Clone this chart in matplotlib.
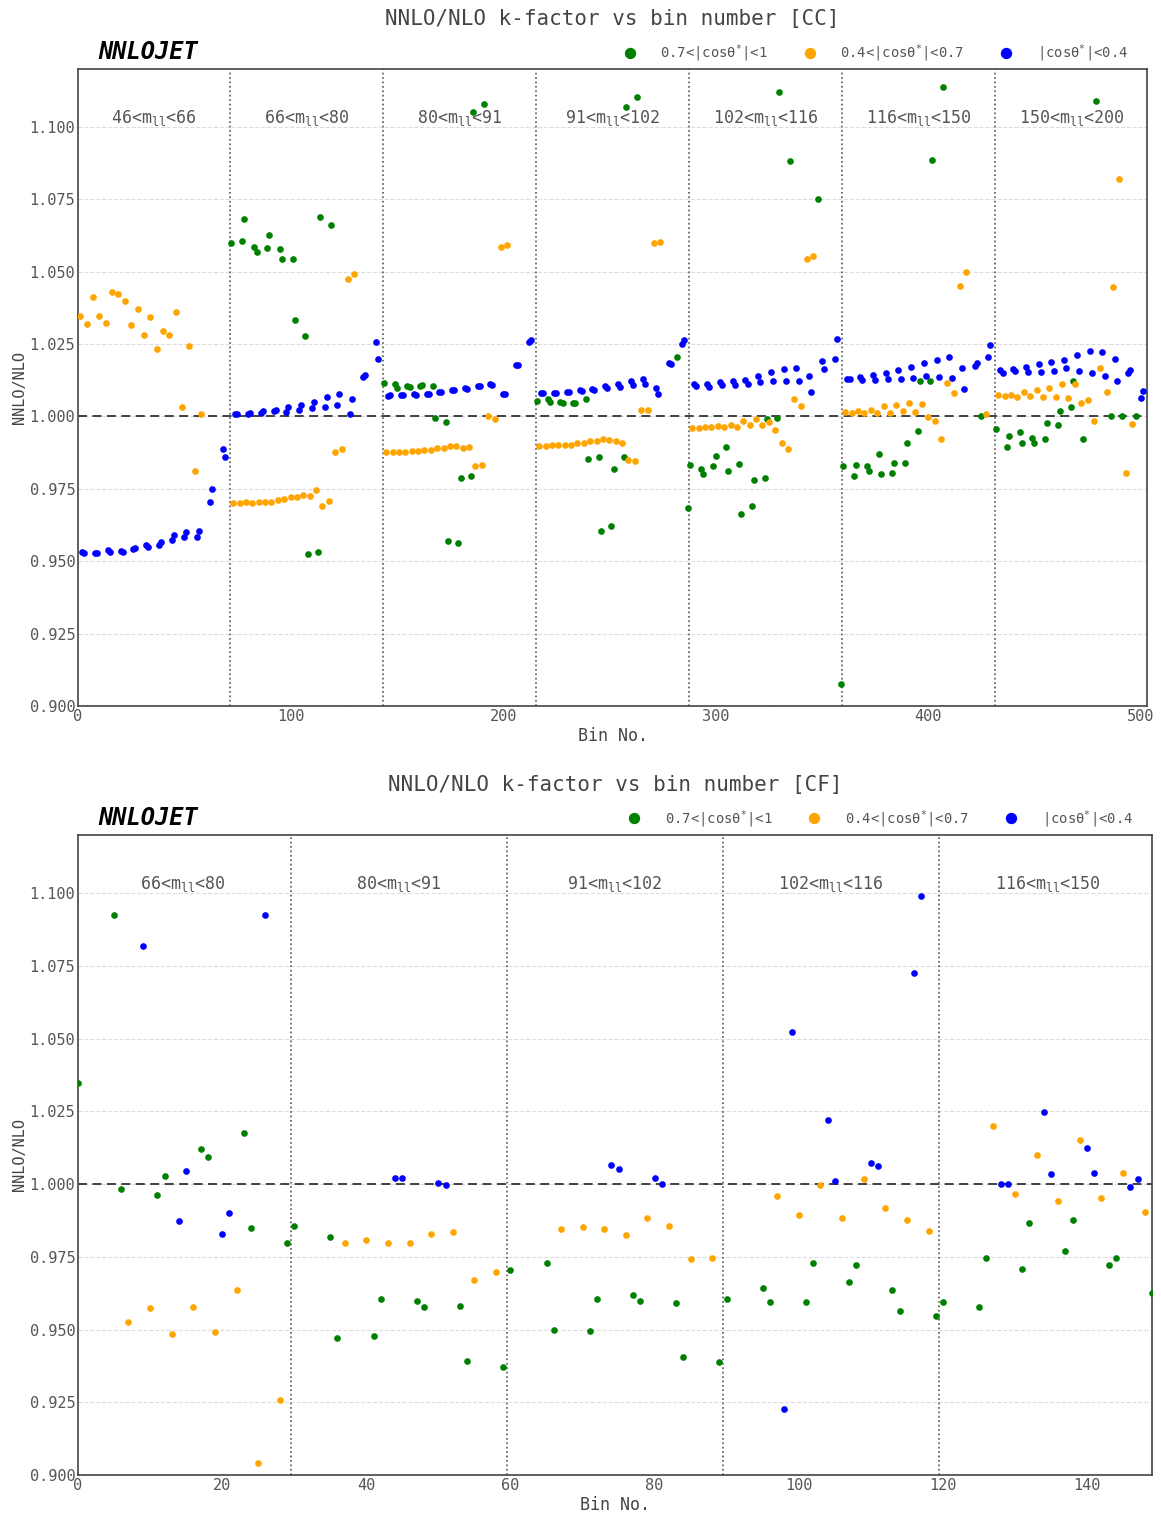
import numpy as np
import matplotlib
matplotlib.use('Agg')
import matplotlib.pyplot as plt

nan = np.nan

# k-factor per bin; each row is one |y_ll| bin, split into six cos(theta*) slices
# ordered -1..-0.7, -0.7..-0.4, -0.4..0, 0..0.4, 0.4..0.7, 0.7..1
cc_m46_66 = [
    nan, 1.0347, 0.9532, 0.9527, 1.0320, nan,
    nan, 1.0411, 0.9527, 0.9529, 1.0348, nan,
    nan, 1.0323, 0.9538, 0.9532, 1.0430, nan,
    nan, 1.0422, 0.9536, 0.9532, 1.0400, nan,
    nan, 1.0315, 0.9544, 0.9545, 1.0370, nan,
    nan, 1.0282, 0.9555, 0.9548, 1.0342, nan,
    nan, 1.0233, 0.9555, 0.9567, 1.0295, nan,
    nan, 1.0281, 0.9574, 0.9592, 1.0361, nan,
    nan, 1.0032, 0.9583, 0.9600, 1.0243, nan,
    nan, 0.9812, 0.9583, 0.9604, 1.0007, nan,
    nan, nan, 0.9705, 0.9750, nan, nan,
    nan, nan, 0.9888, 0.9859, nan, nan,
]
cc_m66_80 = [
    1.0598, 0.9702, 1.0007, 1.0009, 0.9702, 1.0607,
    1.0683, 0.9705, 1.0007, 1.0013, 0.9702, 1.0586,
    1.0569, 0.9705, 1.0013, 1.0020, 0.9706, 1.0581,
    1.0626, 0.9706, 1.0018, 1.0024, 0.9713, 1.0578,
    1.0544, 0.9715, 1.0016, 1.0033, 0.9722, 1.0544,
    1.0333, 0.9722, 1.0022, 1.0039, 0.9728, 1.0279,
    0.9525, 0.9727, 1.0029, 1.0051, 0.9745, 0.9531,
    1.0689, 0.9692, 1.0031, 1.0066, 0.9707, 1.0660,
    nan, 0.9878, 1.0039, 1.0078, 0.9887, nan,
    nan, 1.0476, 1.0010, 1.0061, 1.0493, nan,
    nan, nan, 1.0135, 1.0144, nan, nan,
    nan, nan, 1.0256, 1.0199, nan, nan,
]
cc_m80_91 = [
    1.0114, 0.9876, 1.0070, 1.0073, 0.9876, 1.0112,
    1.0100, 0.9877, 1.0073, 1.0073, 0.9877, 1.0106,
    1.0103, 0.9881, 1.0076, 1.0075, 0.9881, 1.0106,
    1.0109, 0.9885, 1.0078, 1.0079, 0.9885, 1.0106,
    0.9994, 0.9891, 1.0084, 1.0084, 0.9892, 0.9982,
    0.9570, 0.9897, 1.0090, 1.0090, 0.9897, 0.9562,
    0.9789, 0.9892, 1.0098, 1.0096, 0.9893, 0.9795,
    1.1050, 0.9830, 1.0106, 1.0106, 0.9832, 1.1078,
    nan, 1.0000, 1.0113, 1.0108, 0.9990, nan,
    nan, 1.0586, 1.0079, 1.0079, 1.0593, nan,
    nan, nan, 1.0179, 1.0177, nan, nan,
    nan, nan, 1.0256, 1.0263, nan, nan,
]
cc_m91_102 = [
    1.0053, 0.9899, 1.0082, 1.0082, 0.9897, 1.0059,
    1.0050, 0.9901, 1.0082, 1.0082, 0.9900, 1.0051,
    1.0047, 0.9903, 1.0086, 1.0084, 0.9903, 1.0047,
    1.0047, 0.9909, 1.0090, 1.0088, 0.9909, 1.0060,
    0.9853, 0.9916, 1.0096, 1.0091, 0.9914, 0.9861,
    0.9605, 0.9922, 1.0105, 1.0098, 0.9919, 0.9622,
    0.9820, 0.9914, 1.0113, 1.0103, 0.9910, 0.9861,
    1.1070, 0.9850, 1.0123, 1.0108, 0.9847, 1.1102,
    nan, 1.0024, 1.0128, 1.0112, 1.0024, nan,
    nan, 1.0598, 1.0097, 1.0079, 1.0602, nan,
    nan, nan, 1.0185, 1.0180, nan, nan,
    1.0207, nan, 1.0250, 1.0264, nan, 0.9684,
]
cc_m102_116 = [
    0.9834, 0.9960, 1.0111, 1.0106, 0.9960, 0.9817,
    0.9801, 0.9964, 1.0112, 1.0103, 0.9962, 0.9828,
    0.9865, 0.9968, 1.0120, 1.0107, 0.9963, 0.9896,
    0.9812, 0.9972, 1.0122, 1.0109, 0.9963, 0.9835,
    0.9664, 0.9986, 1.0126, 1.0112, 0.9970, 0.9692,
    0.9781, 0.9991, 1.0139, 1.0119, 0.9971, 0.9788,
    0.9990, 0.9980, 1.0152, 1.0123, 0.9953, 0.9993,
    1.1122, 0.9907, 1.0164, 1.0121, 0.9887, 1.0882,
    nan, 1.0060, 1.0168, 1.0121, 1.0037, nan,
    nan, 1.0545, 1.0139, 1.0085, 1.0553, nan,
    1.0750, nan, 1.0192, 1.0164, nan, nan,
    nan, nan, 1.0198, 1.0268, nan, 0.9077,
]
cc_m116_150 = [
    0.9828, 1.0014, 1.0130, 1.0130, 1.0013, 0.9796,
    0.9834, 1.0020, 1.0136, 1.0126, 1.0013, 0.9830,
    0.9812, 1.0024, 1.0144, 1.0127, 1.0013, 0.9870,
    0.9800, 1.0036, 1.0149, 1.0129, 1.0013, 0.9804,
    0.9838, 1.0041, 1.0160, 1.0129, 1.0018, 0.9839,
    0.9907, 1.0048, 1.0170, 1.0132, 1.0014, 0.9949,
    1.0121, 1.0043, 1.0183, 1.0139, 0.9998, 1.0122,
    1.0885, 0.9983, 1.0195, 1.0136, 0.9923, 1.1137,
    nan, 1.0115, 1.0207, 1.0132, 1.0081, nan,
    nan, 1.0452, 1.0168, 1.0094, 1.0499, nan,
    nan, nan, 1.0174, 1.0186, nan, 1.0000,
    nan, 1.0010, 1.0205, 1.0248, nan, nan,
]
cc_m150_200 = [
    0.9956, 1.0074, 1.0162, 1.0150, 1.0071, 0.9893,
    0.9933, 1.0075, 1.0165, 1.0156, 1.0066, 0.9948,
    0.9909, 1.0086, 1.0170, 1.0154, 1.0069, 0.9924,
    0.9909, 1.0093, 1.0182, 1.0152, 1.0067, 0.9922,
    0.9976, 1.0100, 1.0187, 1.0157, 1.0067, 0.9972,
    1.0020, 1.0111, 1.0196, 1.0166, 1.0063, 1.0032,
    1.0123, 1.0113, 1.0213, 1.0156, 1.0048, 0.9922,
    nan, 1.0058, 1.0225, 1.0151, 0.9984, 1.1089,
    nan, 1.0166, 1.0222, 1.0141, 1.0084, nan,
    1.0000, 1.0448, 1.0198, 1.0123, 1.0819, 1.0000,
    nan, 0.9805, 1.0149, 1.0159, 0.9974, nan,
    1.0000, nan, 1.0065, 1.0088, nan, nan,
]

cf_m66_80 = [
    1.0346, nan, nan, nan, nan, 1.0926,
    0.9982, 0.9527, nan, 1.0819, 0.9575, 0.9964,
    1.0026, 0.9483, 0.9872, 1.0045, 0.9579, 1.0122,
    1.0092, 0.9492, 0.9828, 0.9901, 0.9636, 1.0175,
    0.9849, 0.9040, 1.0924, nan, 0.9257, 0.9796,
]
cf_m80_91 = [
    0.9855, nan, nan, nan, nan, 0.9817,
    0.9471, 0.9799, nan, nan, 0.9807, 0.9477,
    0.9604, 0.9799, 1.0022, 1.0022, 0.9797, 0.9599,
    0.9577, 0.9830, 1.0003, 0.9996, 0.9836, 0.9582,
    0.9391, 0.9671, nan, nan, 0.9696, 0.9370,
]
cf_m91_102 = [
    0.9704, nan, nan, nan, nan, 0.9729,
    0.9500, 0.9845, nan, nan, 0.9851, 0.9496,
    0.9604, 0.9846, 1.0066, 1.0053, 0.9825, 0.9617,
    0.9598, 0.9883, 1.0021, 1.0000, 0.9855, 0.9591,
    0.9407, 0.9741, nan, nan, 0.9745, 0.9389,
]
cf_m102_116 = [
    0.9605, nan, nan, nan, nan, 0.9644,
    0.9594, 0.9958, 0.9228, 1.0522, 0.9895, 0.9594,
    0.9728, 0.9996, 1.0221, 1.0012, 0.9882, 0.9662,
    0.9721, 1.0016, 1.0071, 1.0063, 0.9917, 0.9637,
    0.9562, 0.9878, 1.0727, 1.0989, 0.9840, 0.9546,
]
cf_m116_150 = [
    0.9596, nan, nan, nan, nan, 0.9578,
    0.9746, 1.0199, 1.0000, 1.0000, 0.9967, 0.9707,
    0.9866, 1.0101, 1.0249, 1.0033, 0.9943, 0.9771,
    0.9876, 1.0150, 1.0125, 1.0039, 0.9951, 0.9721,
    0.9746, 1.0037, 0.9989, 1.0016, 0.9904, 0.9625,
]

cc_regions = [cc_m46_66, cc_m66_80, cc_m80_91, cc_m91_102,
              cc_m102_116, cc_m116_150, cc_m150_200]
cc_labels = ['46<m$_{ll}$<66', '66<m$_{ll}$<80', '80<m$_{ll}$<91',
             '91<m$_{ll}$<102', '102<m$_{ll}$<116', '116<m$_{ll}$<150',
             '150<m$_{ll}$<200']
cf_regions = [cf_m66_80, cf_m80_91, cf_m91_102, cf_m102_116, cf_m116_150]
cf_labels = cc_labels[1:6]

cos_labels = ['0.7<|cos\u03b8$^{*}$|<1', '0.4<|cos\u03b8$^{*}$|<0.7',
              '|cos\u03b8$^{*}$|<0.4']
cos_colors = ['green', 'orange', 'blue']
# which |cos| class each of the six slices belongs to
cos_class = [0, 1, 2, 2, 1, 0]

plt.rcParams['font.family'] = ['DejaVu Sans Mono']
plt.rcParams['mathtext.fontset'] = 'custom'
plt.rcParams['mathtext.rm'] = 'DejaVu Sans Mono'
plt.rcParams['mathtext.default'] = 'regular'
plt.rcParams['text.color'] = '#333333'
plt.rcParams['axes.labelcolor'] = '#444444'
plt.rcParams['xtick.color'] = '#555555'
plt.rcParams['ytick.color'] = '#555555'


def kfactor_panel(ax, regions, labels, tag):
    vals = np.concatenate([np.asarray(r, float) for r in regions])
    bins = np.arange(len(vals))
    cls = np.array([cos_class[i % 6] for i in bins])
    for k in range(3):
        sel = cls == k
        ax.plot(bins[sel], vals[sel], 'o', ms=4.8, mew=0,
                color=cos_colors[k], label=cos_labels[k], zorder=3)

    nper = len(regions[0])
    for r in range(1, len(regions)):
        ax.axvline(r * nper - 0.5, color='#555555', ls=':', lw=1.2, zorder=2)
    for r, lab in enumerate(labels):
        ax.text(r * nper + (nper - 1) / 2, 1.1015, lab, ha='center',
                va='baseline', fontsize=12, color='#555555')

    ax.axhline(1.0, color='#333333', ls=(0, (5, 3)), lw=1.3, zorder=2)
    ax.set_xlim(0, len(vals) - 1)
    ax.set_ylim(0.9, 1.12)
    ax.set_yticks(np.arange(0.9, 1.1001, 0.025))
    ax.yaxis.set_major_formatter(plt.FormatStrFormatter('%.3f'))
    ax.grid(axis='y', color='#dddddd', ls='--', lw=0.8)
    ax.set_axisbelow(True)
    ax.tick_params(length=0, pad=2, labelsize=11)
    for s in ax.spines.values():
        s.set_color('#444444')
        s.set_linewidth(1.2)

    ax.set_xlabel('Bin No.', fontsize=12, labelpad=2)
    ax.set_ylabel('NNLO/NLO', fontsize=11, labelpad=2)
    ax.set_title('NNLO/NLO k-factor vs bin number [%s]' % tag,
                 fontsize=15, pad=32, color='#444444')
    ax.text(0.019, 1.008, 'NNLOJET', transform=ax.transAxes, fontsize=17,
            fontweight='bold', fontstyle='italic', va='bottom', color='black')
    leg = ax.legend(loc='lower right', bbox_to_anchor=(0.99, 0.995), ncol=3,
                    frameon=False, markerscale=1.7, fontsize=10,
                    handletextpad=1.2, columnspacing=2.0, borderaxespad=0.2)
    for t in leg.get_texts():
        t.set_color('#555555')


fig = plt.figure(figsize=(11.61, 15.17), dpi=100)
ax_cc = fig.add_axes([0.0672, 0.5346, 0.9208, 0.4199])
ax_cf = fig.add_axes([0.0672, 0.0277, 0.9250, 0.4219])

kfactor_panel(ax_cc, cc_regions, cc_labels, 'CC')
ax_cc.set_xticks(np.arange(0, 501, 100))
kfactor_panel(ax_cf, cf_regions, cf_labels, 'CF')
ax_cf.set_xticks(np.arange(0, 141, 20))

fig.savefig('out.png', dpi=100)
